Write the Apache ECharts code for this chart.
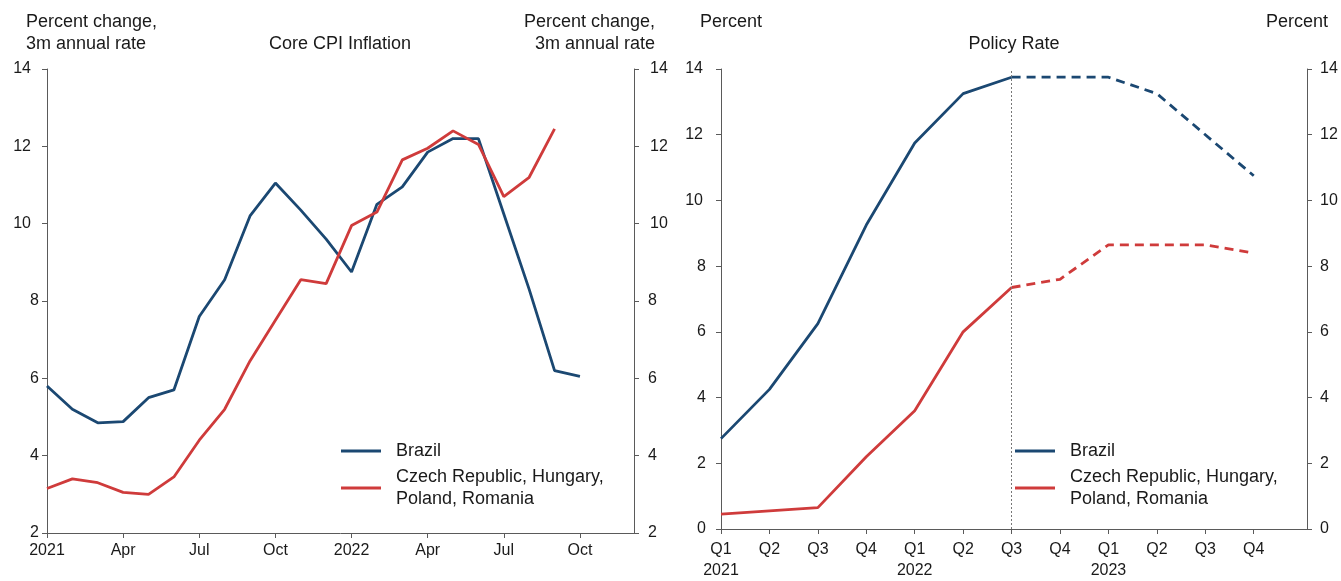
<!DOCTYPE html>
<html>
<head>
<meta charset="utf-8">
<script src="https://cdn.jsdelivr.net/npm/echarts@6/dist/echarts.min.js"></script>
<style>
html,body{margin:0;padding:0;background:#fff;}
#chart{width:1341px;height:581px;}
</style>
</head>
<body>
<div id="chart"></div>
<script>
// ---- Data ----
const monthCategories = ['2021-01','2021-02','2021-03','2021-04','2021-05','2021-06','2021-07','2021-08','2021-09','2021-10','2021-11','2021-12',
  '2022-01','2022-02','2022-03','2022-04','2022-05','2022-06','2022-07','2022-08','2022-09','2022-10'];
const monthTickLabels = ['2021','Apr','Jul','Oct','2022','Apr','Jul','Oct'];
const brazilCPI = [5.8,5.2,4.85,4.88,5.5,5.7,7.6,8.55,10.2,11.05,10.35,9.6,8.75,10.5,10.95,11.85,12.2,12.2,10.25,8.3,6.2,6.05];
const ceeCPI = [3.15,3.4,3.3,3.05,3.0,3.45,4.4,5.2,6.45,7.5,8.55,8.45,9.95,10.3,11.65,11.95,12.4,12.05,10.7,11.2,12.45];

const quarterLabels = ['Q1\n2021','Q2','Q3','Q4','Q1\n2022','Q2','Q3','Q4','Q1\n2023','Q2','Q3','Q4'];
const brazilRate = [2.75,4.25,6.25,9.25,11.75,13.25,13.75,13.75,13.75,13.25,12.0,10.75];
const ceeRate = [0.45,0.55,0.65,2.2,3.6,6.0,7.35,7.6,8.65,8.65,8.65,8.4];
const forecastStart = 6;

const seriesNames = ['Brazil','Czech Republic, Hungary,\nPoland, Romania'];
const colors = ['#1b4872','#cf3b3b'];

// ---- Helpers ----
const axisColor = '#5a5a5a';
const textColor = '#1a1a1a';
const font = 'Liberation Sans, Arial, sans-serif';

function pts(arr){ return arr.map((v,i)=>[i,v]); }
function actual(arr){ return arr.map((v,i)=>[i, i<=forecastStart ? v : null]); }
function forecast(arr){ return arr.map((v,i)=>[i, i>=forecastStart ? v : null]); }

function yAx(gridIndex, position, min, max, interval, margin, twoDigitPad){
  return {
    type:'value', gridIndex, position, min, max, interval,
    axisLine:{show:true, lineStyle:{color:axisColor, width:1}},
    axisTick:{show:true, inside:false, length:5, lineStyle:{color:axisColor}},
    splitLine:{show:false},
    axisLabel:{
      margin, color:textColor, fontSize:16, fontFamily:font,
      formatter: v => (String(v).length>1 ? '{t|'+v+'}' : '{s|'+v+'}'),
      rich:{
        t:{fontSize:16, fontFamily:font, color:textColor,
           padding: position==='left' ? [0,twoDigitPad,0,0] : [0,0,0,twoDigitPad]},
        s:{fontSize:16, fontFamily:font, color:textColor}
      }
    }
  };
}

function xAx(gridIndex, max, labels, lineHeight){
  const ticks = labels.map((_,i)=>i);
  return {
    type:'value', gridIndex, min:0, max, interval:1,
    axisLine:{show:true, onZero:false, lineStyle:{color:axisColor, width:1}},
    axisTick:{show:true, length:5, lineStyle:{color:axisColor}, customValues: ticks},
    splitLine:{show:false},
    axisLabel:{
      margin:10, color:textColor, fontSize:16, fontFamily:font, lineHeight,
      customValues: ticks,
      formatter: v => (labels[Math.round(v)] !== undefined && Math.abs(v-Math.round(v))<1e-6) ? labels[Math.round(v)] : ''
    }
  };
}

// Left panel: ticks every 3 months
const leftTickIdx = monthTickLabels.map((_,k)=>k*3);
const leftX = {
  type:'value', gridIndex:0, min:0, max:23.13, interval:3,
  axisLine:{show:true, onZero:false, lineStyle:{color:axisColor, width:1}},
  axisTick:{show:true, length:5, lineStyle:{color:axisColor}, customValues: leftTickIdx},
  splitLine:{show:false},
  axisLabel:{
    margin:10, color:textColor, fontSize:16, fontFamily:font,
    customValues: leftTickIdx,
    formatter: v => monthTickLabels[Math.round(v/3)] || ''
  }
};

const lineBase = {type:'line', showSymbol:false, symbol:'none', smooth:false, connectNulls:false, z:3};
const tStyle = {fontSize:18, fontWeight:'normal', color:textColor, fontFamily:font, lineHeight:22};

const option = {
  animation:false,
  backgroundColor:'#ffffff',
  textStyle:{fontFamily:font, color:textColor},
  title:[
    {text:'Percent change,\n3m annual rate', left:26, top:11, padding:0, textStyle:tStyle},
    {text:'Percent change,\n3m annual rate', left:655, top:11, padding:0, textAlign:'right',
     textStyle:Object.assign({}, tStyle, {align:'right'})},
    {text:'Core CPI Inflation', left:340, top:33, padding:0, textAlign:'center', textStyle:tStyle},
    {text:'Percent', left:700, top:11, padding:0, textStyle:tStyle},
    {text:'Percent', left:1328, top:11, padding:0, textAlign:'right', textStyle:tStyle},
    {text:'Policy Rate', left:1014, top:33, padding:0, textAlign:'center', textStyle:tStyle}
  ],
  legend:[
    {left:341, top:440, padding:0, orient:'vertical', icon:'rect', itemWidth:40, itemHeight:3, itemGap:4,
     data:seriesNames, selectedMode:false,
     textStyle:{fontSize:18, fontFamily:font, color:textColor, lineHeight:22, padding:[0,0,0,10]}},
    {left:1015, top:440, padding:0, orient:'vertical', icon:'rect', itemWidth:40, itemHeight:3, itemGap:4,
     data:seriesNames, selectedMode:false,
     textStyle:{fontSize:18, fontFamily:font, color:textColor, lineHeight:22, padding:[0,0,0,10]}}
  ],
  grid:[
    {left:47, right:707, top:69, bottom:48, containLabel:false},
    {left:721, right:34, top:69, bottom:48, containLabel:false}
  ],
  xAxis:[
    leftX,
    xAx(1, 12.1, quarterLabels, 21)
  ],
  yAxis:[
    yAx(0,'left',2,14,2,8,8),
    yAx(0,'right',2,14,2,14,2),
    yAx(1,'left',0,14,2,15,3),
    yAx(1,'right',0,14,2,13,0)
  ],
  series:[
    Object.assign({}, lineBase, {name:seriesNames[0], xAxisIndex:0, yAxisIndex:0, data:pts(brazilCPI),
      lineStyle:{color:colors[0], width:2.8}, itemStyle:{color:colors[0]}}),
    Object.assign({}, lineBase, {name:seriesNames[1], xAxisIndex:0, yAxisIndex:0, data:pts(ceeCPI),
      lineStyle:{color:colors[1], width:2.8}, itemStyle:{color:colors[1]}}),
    Object.assign({}, lineBase, {name:seriesNames[0], xAxisIndex:1, yAxisIndex:2, data:actual(brazilRate),
      lineStyle:{color:colors[0], width:2.8}, itemStyle:{color:colors[0]},
      markLine:{silent:true, symbol:['none','none'], label:{show:false},
        lineStyle:{color:'#777', width:1, type:[2,2]}, data:[{xAxis:forecastStart}]}}),
    Object.assign({}, lineBase, {name:seriesNames[1], xAxisIndex:1, yAxisIndex:2, data:actual(ceeRate),
      lineStyle:{color:colors[1], width:2.8}, itemStyle:{color:colors[1]}}),
    Object.assign({}, lineBase, {name:'Brazil forecast', xAxisIndex:1, yAxisIndex:2, data:forecast(brazilRate),
      lineStyle:{color:colors[0], width:2.8, type:[9,6]}, itemStyle:{color:colors[0]}}),
    Object.assign({}, lineBase, {name:'CEE forecast', xAxisIndex:1, yAxisIndex:2, data:forecast(ceeRate),
      lineStyle:{color:colors[1], width:2.8, type:[9,6]}, itemStyle:{color:colors[1]}})
  ]
};

const chart = echarts.init(document.getElementById('chart'), null, {renderer:'canvas'});
chart.setOption(option);
</script>
</body>
</html>
